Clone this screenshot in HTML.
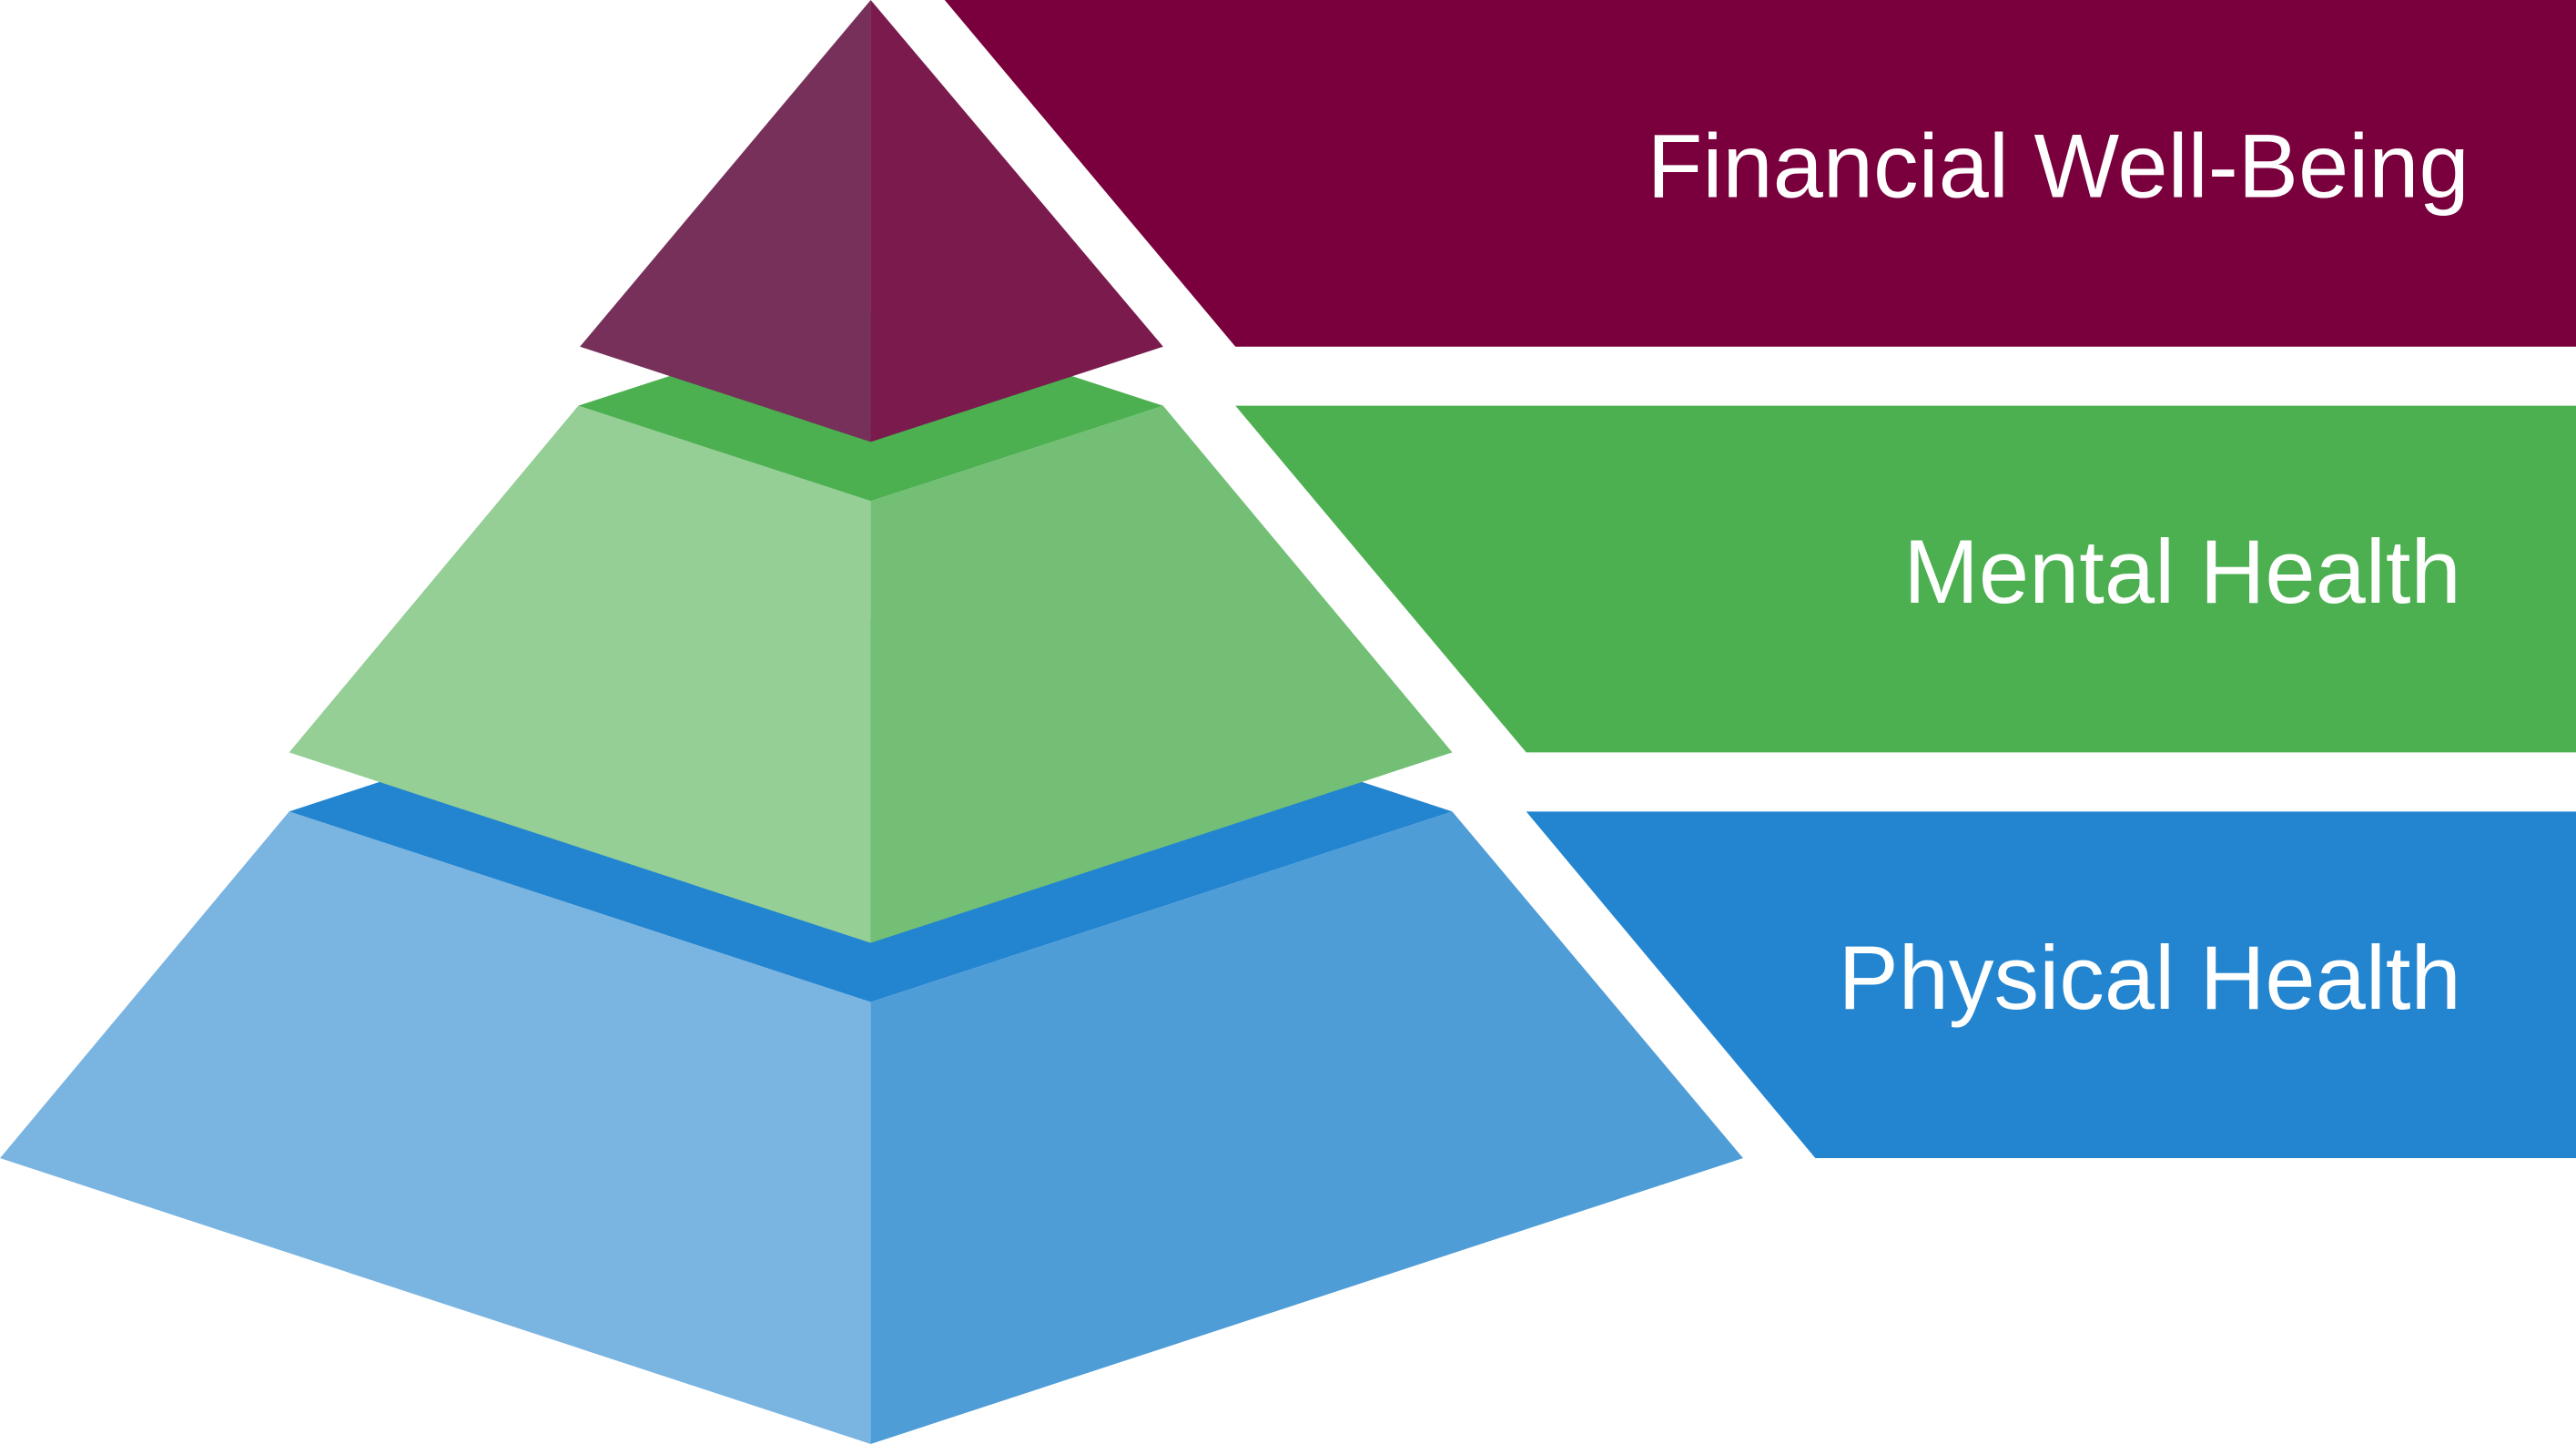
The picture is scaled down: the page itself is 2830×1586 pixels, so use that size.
<!DOCTYPE html>
<html><head><meta charset="utf-8"><style>
html,body{margin:0;padding:0;background:#fff;}
svg{display:block}
</style></head><body>
<svg width="2830" height="1586" viewBox="0 0 1568 879" preserveAspectRatio="none" xmlns="http://www.w3.org/2000/svg">
<rect width="1568" height="879" fill="#fff"/>
<!-- bottom tier -->
<polygon points="176,494 530,378 884,494 530,610" fill="#2385d0"/>
<polygon points="176,494 0,705 530,879 530,610" fill="#7ab4e1"/>
<polygon points="530,610 884,494 1061,705 530,879" fill="#4f9dd7"/>
<!-- middle tier -->
<polygon points="352,247 530,189 708,247 530,305" fill="#4caf50"/>
<polygon points="352,247 176,458 530,574 530,305" fill="#95cf95"/>
<polygon points="530,305 708,247 884,458 530,574" fill="#72bf75"/>
<!-- top tier -->
<polygon points="530,0 353,211 530,269" fill="#76305a"/>
<polygon points="530,0 708,211 530,269" fill="#7a1a4d"/>
<!-- banners -->
<polygon points="575,0 1568,0 1568,211 752,211" fill="#79003c"/>
<polygon points="752,247 1568,247 1568,458 929,458" fill="#4caf50"/>
<polygon points="929,494 1568,494 1568,705 1105,705" fill="#2385d0"/>
<g font-family="Liberation Sans, sans-serif" font-size="55" fill="#fff" text-anchor="end">
<text x="1503" y="120">Financial Well-Being</text>
<text x="1498" y="367">Mental Health</text>
<text x="1498" y="614">Physical Health</text>
</g>
</svg>
</body></html>
